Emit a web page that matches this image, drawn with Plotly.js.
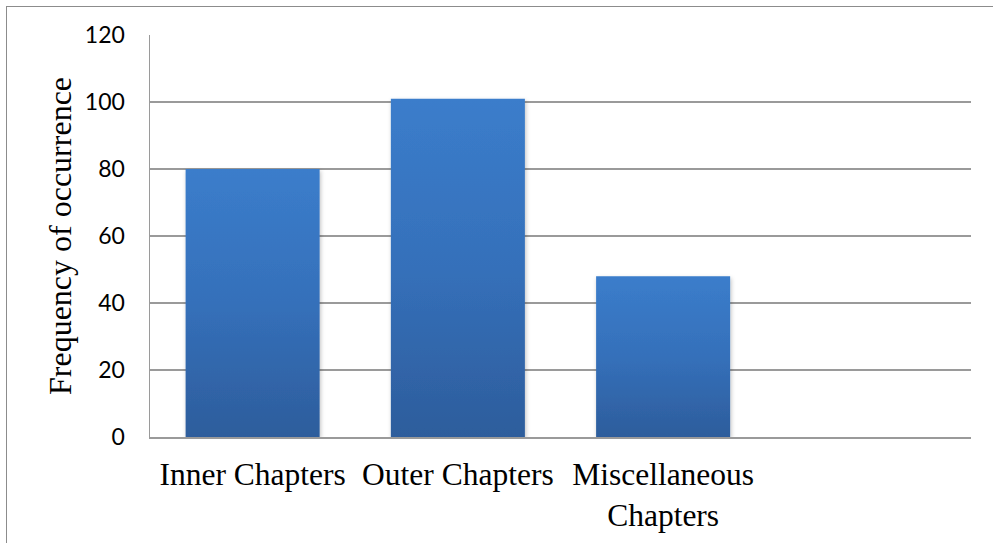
<!DOCTYPE html>
<html>
<head>
<meta charset="utf-8">
<script src="https://cdn.plot.ly/plotly-3.0.1.min.js"></script>
<style>
  html, body { margin: 0; padding: 0; background: #fff; }
  #wrap { position: relative; width: 993px; height: 543px; overflow: hidden; }
  #chart { position: absolute; left: 0; top: 0; width: 993px; height: 543px; }
  #frame { position: absolute; left: 6px; top: 6px; width: 1100px; height: 700px;
           border-left: 1.5px solid #8c8c8c; border-top: 1.5px solid #8c8c8c; pointer-events: none; }
</style>
</head>
<body>
<div id="wrap">
  <div id="chart"></div>
  <div id="frame"></div>
</div>
<script>
const categories = ['Inner Chapters', 'Outer Chapters', 'Miscellaneous<br>Chapters'];
const frequencies = [80, 101, 48];
const yTickValues = [0, 20, 40, 60, 80, 100, 120];
const yTitle = 'Frequency of occurrence';

const trace = {
  type: 'bar',
  x: categories,
  y: frequencies,
  marker: { color: '#3470B8', line: { width: 0 } },
  hoverinfo: 'x+y'
};

const layout = {
  width: 993,
  height: 543,
  margin: { l: 150, r: 22, t: 35, b: 106 },
  paper_bgcolor: '#ffffff',
  plot_bgcolor: '#ffffff',
  showlegend: false,
  bargap: 0.347,
  xaxis: {
    type: 'category',
    range: [-0.5, 3.5],
    showgrid: false,
    showline: true,
    linecolor: '#9a9a9a',
    linewidth: 1.5,
    ticks: '',
    ticklabelstandoff: 9,
    tickfont: { family: 'Liberation Serif, Times New Roman, serif', size: 31.5, color: '#000' },
    fixedrange: true
  },
  yaxis: {
    range: [0, 120],
    tickvals: yTickValues,
    ticktext: yTickValues.map(String),
    showgrid: true,
    gridcolor: '#9a9a9a',
    gridwidth: 1.5,
    showline: true,
    linecolor: '#9a9a9a',
    linewidth: 1.5,
    zeroline: false,
    ticks: '',
    ticklabelstandoff: 19,
    tickfont: { family: 'Lato, Carlito, Calibri, sans-serif', size: 23, color: '#000' },
    title: {
      text: yTitle,
      font: { family: 'Liberation Serif, Times New Roman, serif', size: 32, color: '#000' },
      standoff: 3
    },
    fixedrange: true
  }
};

Plotly.newPlot('chart', [trace], layout, { displayModeBar: false, staticPlot: true }).then(function (gd) {
  const svg = gd.querySelector('svg.main-svg');
  const NS = 'http://www.w3.org/2000/svg';
  let defs = svg.querySelector('defs');
  if (!defs) { defs = document.createElementNS(NS, 'defs'); svg.insertBefore(defs, svg.firstChild); }
  const grad = document.createElementNS(NS, 'linearGradient');
  grad.setAttribute('id', 'barGrad');
  grad.setAttribute('x1', '0'); grad.setAttribute('y1', '0');
  grad.setAttribute('x2', '0'); grad.setAttribute('y2', '1');
  [['0', '#3B7DCB'], ['0.5', '#3570BA'], ['1', '#2D5D9C']].forEach(function (s) {
    const st = document.createElementNS(NS, 'stop');
    st.setAttribute('offset', s[0]);
    st.setAttribute('stop-color', s[1]);
    grad.appendChild(st);
  });
  defs.appendChild(grad);
  const filt = document.createElementNS(NS, 'filter');
  filt.setAttribute('id', 'barShadow');
  filt.setAttribute('x', '-10%'); filt.setAttribute('y', '-10%');
  filt.setAttribute('width', '120%'); filt.setAttribute('height', '120%');
  const ds = document.createElementNS(NS, 'feDropShadow');
  ds.setAttribute('dx', '1'); ds.setAttribute('dy', '2');
  ds.setAttribute('stdDeviation', '2');
  ds.setAttribute('flood-color', '#000'); ds.setAttribute('flood-opacity', '0.25');
  filt.appendChild(ds);
  defs.appendChild(filt);
  gd.querySelectorAll('.trace.bars .point path').forEach(function (p) {
    p.style.fill = 'url(#barGrad)';
    p.setAttribute('filter', 'url(#barShadow)');
  });
});
</script>
</body>
</html>
